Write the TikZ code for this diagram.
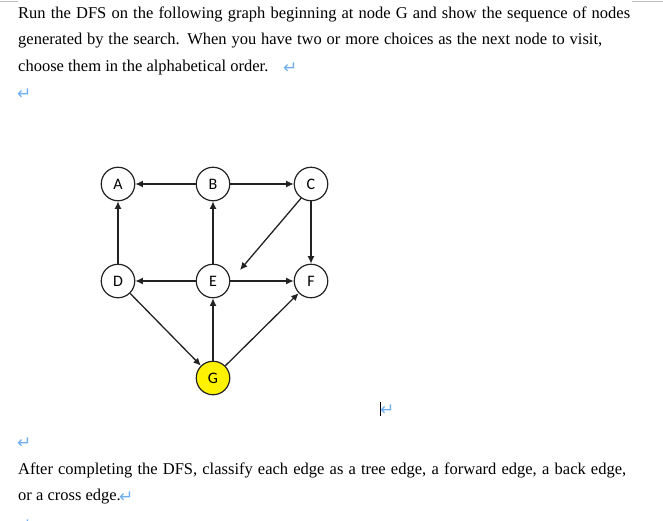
\documentclass[tikz,border=0pt]{standalone}
\usepackage{fontspec}
\setmainfont{Liberation Serif}
\newfontfamily\nodefont{Carlito}
\newfontfamily\symfont{DejaVu Sans}
\usetikzlibrary{arrows.meta,calc}
\definecolor{markblue}{HTML}{6FAEF0}
\definecolor{edgegray}{HTML}{222222}
\tikzset{
  vert/.style={circle,draw=edgegray,line width=1.2pt,fill=white,minimum size=33.5pt,inner sep=0pt,font=\nodefont\fontsize{16}{16}\selectfont},
  edge/.style={draw=edgegray,line width=1.3pt,-{Latex[length=7.5pt,width=7pt]}},
  para/.style={anchor=base west,inner sep=0pt,font=\fontsize{16.5}{16.5}\selectfont},
  retmark/.style={anchor=base west,inner sep=0pt,text=markblue,font=\symfont\fontsize{17}{17}\selectfont},
}
\begin{document}
\begin{tikzpicture}[x=1pt,y=-1pt]
\useasboundingbox (0,0) rectangle (663,520);
% page corner marks
\draw[gray!50,line width=1pt] (0,1) -- (18,1);
\draw[gray!50,line width=1pt] (632,1) -- (663,1);
% text
\node[para] (t1) at (18,18) {\makebox[612pt][s]{Run the DFS on the following graph beginning at node G and show the sequence of nodes}};
\node[para] (t2) at (18,44.5) {\makebox[584pt][s]{generated by the search. When you have two or more choices as the next node to visit,}};
\node[para] (t3) at (18,71) {choose them in the alphabetical order.};
\node[retmark] (m1) at (283,73) {↵};
\node[retmark] (m2) at (17,99.5) {↵};
\node[para] (t4) at (18,474) {\makebox[608pt][s]{After completing the DFS, classify each edge as a tree edge, a forward edge, a back edge,}};
\node[para] (t5) at (18,500) {or a cross edge.};
\node[retmark] (m3) at (119,502) {↵};
\node[retmark] (m4) at (380,415) {↵};
\node[retmark] (m5) at (17,448) {↵};
\node[retmark] (m6) at (17,530) {↵};
\draw[black,line width=0.8pt] (380,402) -- (380,416);
% graph
\node[vert] (A) at (118,184) {A};
\node[vert] (B) at (213,184) {B};
\node[vert] (C) at (311,184) {C};
\node[vert] (D) at (118,281) {D};
\node[vert] (E) at (213,281) {E};
\node[vert] (F) at (311,281) {F};
\node[vert,fill=yellow] (G) at (213,378) {G};
\draw[edge] (B) -- (A);
\draw[edge] (B) -- (C);
\draw[edge] (C) -- (F);
\draw[edge] (D) -- (A);
\draw[edge] (E) -- (B);
\draw[edge] (E) -- (D);
\draw[edge] (E) -- (F);
\draw[edge] (D) -- (G);
\draw[edge] (G) -- (E);
\draw[edge] (G) -- (F);
\draw[edge] (C.235) -- ($(E.center)+(27,-11)$);
\end{tikzpicture}
\end{document}
